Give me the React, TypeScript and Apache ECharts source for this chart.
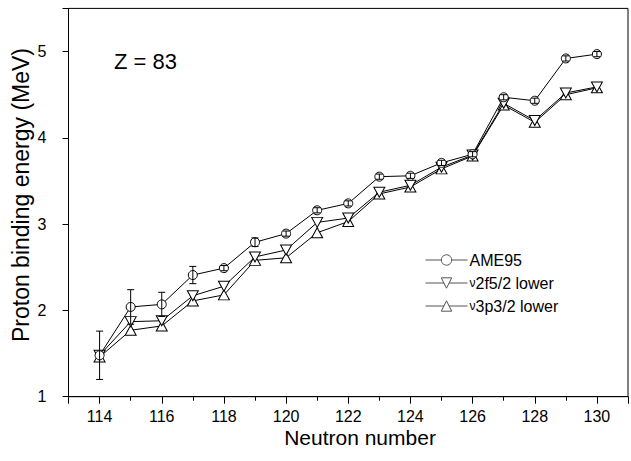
import React, { useEffect, useRef } from "react";
import * as echarts from "echarts";

const neutrons = [114, 115, 116, 117, 118, 119, 120, 121, 122, 123, 124, 125, 126, 127, 128, 129, 130];
const ame95 = [1.48, 2.04, 2.07, 2.41, 2.49, 2.79, 2.89, 3.16, 3.24, 3.55, 3.56, 3.71, 3.81, 4.47, 4.43, 4.92, 4.97];
const ame95Err = [0.28, 0.2, 0.14, 0.1, 0.03, 0.05, 0.03, 0.03, 0.03, 0.03, 0.03, 0.03, 0.03, 0.03, 0.03, 0.03, 0.03];
const nu2f52 = [1.48, 1.87, 1.88, 2.17, 2.28, 2.62, 2.7, 3.02, 3.07, 3.37, 3.45, 3.66, 3.8, 4.4, 4.2, 4.52, 4.59];
const nu3p32 = [1.46, 1.77, 1.82, 2.11, 2.18, 2.58, 2.61, 2.9, 3.03, 3.35, 3.43, 3.64, 3.79, 4.38, 4.18, 4.5, 4.58];
const seriesNames = ["AME95", "ν2f5/2 lower", "ν3p3/2 lower"];
const xLabel = "Neutron number";
const yLabel = "Proton binding energy (MeV)";
const note = "Z = 83";

const FONT = "'Liberation Sans', Arial, sans-serif";

export default function App() {
  const ref = useRef<HTMLDivElement>(null);
  useEffect(() => {
    if (!ref.current) return;
    const chart = echarts.init(ref.current, null, { renderer: "svg" });
    const pairs = (ys: number[]) => neutrons.map((n, i) => [n, ys[i]]);
    const errData = neutrons.map((n, i) => [n, ame95[i], ame95Err[i]]);
    const lineCommon = {
      type: "line",
      lineStyle: { color: "#000", width: 1 },
      itemStyle: { color: "#fff", borderColor: "#000", borderWidth: 1 },
      showAllSymbol: true,
    };
    chart.setOption({
      animation: false,
      backgroundColor: "#fff",
      grid: {
        left: 68.5,
        right: -4,
        top: 8.4,
        bottom: 64.3,
        show: true,
        borderColor: "#000",
        borderWidth: 1,
      },
      xAxis: {
        type: "value",
        min: 113,
        max: 131,
        splitNumber: 9,
        axisLine: { show: true, lineStyle: { color: "#000", width: 1 } },
        axisTick: { show: true, inside: false, length: 7, lineStyle: { color: "#000" } },
        minorTick: { show: true, splitNumber: 2, length: 4, lineStyle: { color: "#000" } },
        splitLine: { show: false },
        axisLabel: {
          color: "#000",
          fontFamily: FONT,
          fontSize: 16,
          margin: 12,
          formatter: (v: number) => (v % 2 === 0 ? String(v) : ""),
        },
      },
      yAxis: {
        type: "value",
        min: 1,
        max: 5.5,
        interval: 1,
        axisLine: { show: true, lineStyle: { color: "#000", width: 1 } },
        axisTick: { show: true, inside: false, length: 6, lineStyle: { color: "#000" } },
        splitLine: { show: false },
        axisLabel: {
          color: "#000",
          fontFamily: FONT,
          fontSize: 16,
          margin: 22,
          formatter: (v: number) => (Number.isInteger(v) ? String(v) : ""),
        },
      },
      legend: {
        orient: "vertical",
        left: 425,
        top: 252,
        itemWidth: 42,
        itemHeight: 13,
        itemGap: 7,
        padding: 0,
        data: seriesNames,
        lineStyle: { color: "#555", width: 1 },
        itemStyle: { color: "#fff", borderColor: "#555", borderWidth: 1 },
        textStyle: {
          color: "#000",
          fontFamily: FONT,
          fontSize: 16,
          padding: [0, 0, 0, -3],
          rich: { s: { fontSize: 12, fontFamily: FONT, color: "#000" } },
        },
        formatter: (name: string) => (name.startsWith("ν") ? "{s|ν}" + name.slice(1) : name),
      },
      graphic: [
        {
          type: "text",
          left: 114,
          top: 50,
          style: { text: note, fill: "#000", font: `22px ${FONT}` },
        },
        {
          type: "text",
          x: 360,
          y: 437,
          style: { text: xLabel, fill: "#000", font: `21px ${FONT}`, align: "center", verticalAlign: "middle" },
        },
        {
          type: "text",
          x: 21,
          y: 195,
          rotation: Math.PI / 2,
          style: { text: yLabel, fill: "#000", font: `23px ${FONT}`, align: "center", verticalAlign: "middle" },
        },
      ],
      series: [
        {
          ...lineCommon,
          name: seriesNames[2],
          data: pairs(nu3p32),
          symbol: "triangle",
          symbolSize: [11, 10],
          z: 2,
        },
        {
          ...lineCommon,
          name: seriesNames[1],
          data: pairs(nu2f52),
          symbol: "triangle",
          symbolRotate: 180,
          symbolSize: [11, 10],
          z: 3,
        },
        {
          ...lineCommon,
          name: seriesNames[0],
          data: pairs(ame95),
          symbol: "circle",
          symbolSize: 9,
          z: 4,
        },
        {
          type: "custom",
          name: "err",
          z: 5,
          data: errData,
          renderItem: (params: any, api: any) => {
            const x = api.value(0);
            const y = api.value(1);
            const e = api.value(2);
            const lo = api.coord([x, y - e]);
            const hi = api.coord([x, y + e]);
            const hw = 3.5;
            const st = { stroke: "#000", lineWidth: 1 };
            return {
              type: "group",
              children: [
                { type: "line", shape: { x1: lo[0], y1: lo[1], x2: hi[0], y2: hi[1] }, style: st },
                { type: "line", shape: { x1: lo[0] - hw, y1: lo[1], x2: lo[0] + hw, y2: lo[1] }, style: st },
                { type: "line", shape: { x1: hi[0] - hw, y1: hi[1], x2: hi[0] + hw, y2: hi[1] }, style: st },
              ],
            };
          },
        },
      ],
    });
    return () => chart.dispose();
  }, []);
  return <div ref={ref} style={{ width: 631, height: 461, position: "absolute", left: 0, top: 0 }} />;
}
